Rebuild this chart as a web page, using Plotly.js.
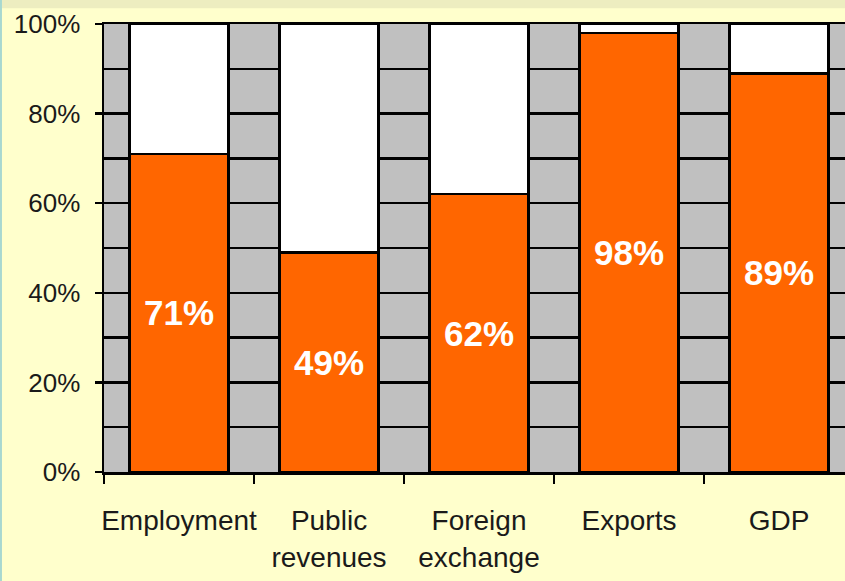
<!DOCTYPE html>
<html><head><meta charset="utf-8">
<script src="https://cdn.plot.ly/plotly-3.0.1.min.js"></script>
<style>html,body{margin:0;padding:0;background:#FFFFCC;overflow:hidden}</style></head>
<body><div id="chart" style="width:845px;height:581px"></div>
<script>
const categories = ["Employment", "Public<br>revenues", "Foreign<br>exchange", "Exports", "GDP"];
const shareValues = [71, 49, 62, 98, 89];
const restValues = [29, 51, 38, 2, 11];
const yTickVals = [0, 20, 40, 60, 80, 100];
const yTickText = ["0%", "20%", "40%", "60%", "80%", "100%"];

const FONT = "Liberation Sans, Arial, sans-serif";
const outline = {color: "#000", width: 2.5};

const traces = [
  {
    type: "bar", x: categories, y: shareValues, width: 0.66,
    marker: {color: "#FF6600", line: outline},
    text: shareValues.map(v => v + "%"),
    textposition: "inside", insidetextanchor: "middle",
    textfont: {family: FONT, size: 35, color: "#fff", weight: "bold"},
    constraintext: "none", hoverinfo: "none"
  },
  {
    type: "bar", x: categories, y: restValues, width: 0.66,
    marker: {color: "#FFFFFF", line: outline},
    hoverinfo: "none"
  }
];

const layout = {
  width: 845, height: 581,
  margin: {l: 104, r: 0, t: 24, b: 109},
  paper_bgcolor: "#FFFFCC", plot_bgcolor: "#C0C0C0",
  barmode: "stack", showlegend: false,
  font: {family: FONT, size: 26, color: "#1a1a1a"},
  xaxis: {
    type: "category", range: [-0.5, 4.44], tickangle: 0,
    tickson: "boundaries", ticks: "outside", ticklen: 9, tickwidth: 2.5, tickcolor: "#000",
    showline: true, linecolor: "#000", linewidth: 2.5, mirror: true,
    showgrid: false, tickfont: {size: 28, color: "#1a1a1a"},
    ticklabelstandoff: 22
  },
  yaxis: {
    range: [0, 100], tickvals: yTickVals, ticktext: yTickText,
    ticks: "outside", ticklen: 7, tickwidth: 2.5, tickcolor: "#000",
    showline: true, linecolor: "#000", linewidth: 2.5,
    showgrid: true, gridcolor: "#000", gridwidth: 2.5, zeroline: false,
    minor: {dtick: 10, showgrid: true, gridcolor: "#000", gridwidth: 2.5, ticks: ""},
    tickfont: {size: 26, color: "#1a1a1a"},
    ticklabelstandoff: 9
  },
  shapes: [
    {type: "rect", xref: "paper", yref: "paper", x0: -0.2, x1: 1.01, y0: 1.035, y1: 1.06,
     fillcolor: "#EDEDC0", line: {width: 0}, layer: "below"},
    {type: "rect", xref: "paper", yref: "paper", x0: -0.1404, x1: -0.1377, y0: -0.25, y1: 1.06,
     fillcolor: "#A8D8D0", line: {width: 0}, layer: "below"}
  ]
};

Plotly.newPlot("chart", traces, layout, {displayModeBar: false, staticPlot: true});
</script></body></html>
